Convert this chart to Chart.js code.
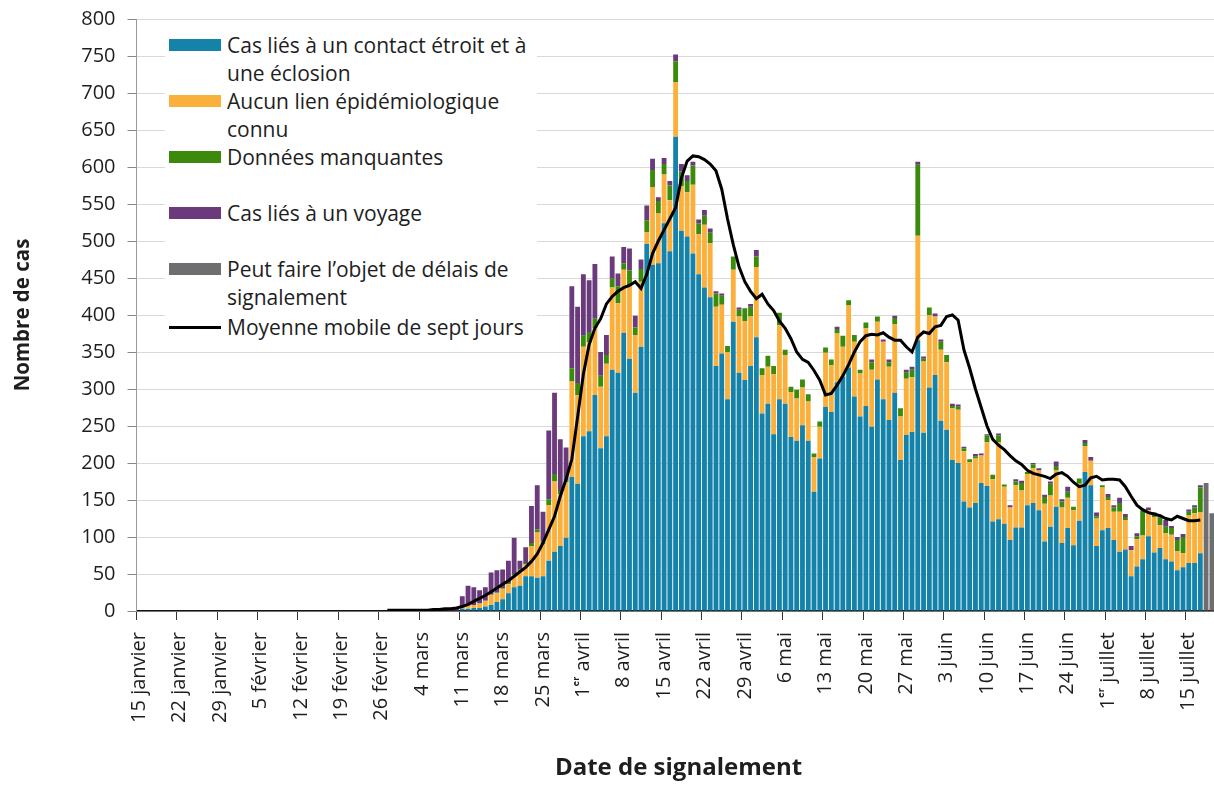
<!DOCTYPE html>
<html lang="fr">
<head>
<meta charset="utf-8">
<script src="https://cdn.jsdelivr.net/npm/chart.js@4"></script>
<style>
  html, body { margin: 0; padding: 0; background: #fff; overflow: hidden; }
  #wrap { position: relative; width: 1224px; height: 786px; }
  #legend {
    position: absolute; left: 165px; top: 28px; width: 372px; height: 314px;
    background: #fff; font-family: "Open Sans", Lato, sans-serif; font-size: 21px; color: #1e1e1e;
  }
  .sw { position: absolute; left: 4px; width: 52px; height: 12px; }
  .txt { position: absolute; left: 62px; line-height: 28px; white-space: nowrap; }
</style>
</head>
<body>
<div id="wrap">
  <canvas id="casesChart"></canvas>
  <div id="legend"></div>
</div>
<script>
// day index 0 = 15 janvier; series below start at day 43
const START = 43;
const N_DAYS = 188;

const tickLabels = ['15 janvier', '22 janvier', '29 janvier', '5 février', '12 février', '19 février',
    '26 février', '4 mars', '11 mars', '18 mars', '25 mars', '1ᵉʳ avril', '8 avril', '15 avril',
    '22 avril', '29 avril', '6 mai', '13 mai', '20 mai', '27 mai', '3 juin', '10 juin', '17 juin',
    '24 juin', '1ᵉʳ juillet', '8 juillet', '15 juillet'];

// Cas liés à un contact étroit et à une éclosion
const contact = [0, 0, 0, 0, 0, 0, 0, 0, 0, 0, 0, 0, 1,
    3, 3, 4, 4, 6, 8, 12, 16, 24, 32, 34, 47, 47, 45, 47, 68, 80, 88, 99, 181,
    172, 236, 243, 292, 220, 236, 326, 322, 376, 341, 295, 357, 496, 468, 470, 524, 486, 641, 514, 506,
    483, 455, 437, 424, 331, 348, 286, 391, 322, 312, 331, 370, 267, 280, 239, 286, 280, 235, 230, 251,
    230, 161, 206, 276, 269, 309, 317, 329, 290, 263, 277, 249, 313, 286, 258, 295, 204, 238, 242, 366,
    241, 302, 319, 257, 245, 204, 200, 148, 140, 146, 173, 169, 121, 124, 118, 96, 113, 113, 143, 146,
    136, 94, 114, 141, 92, 112, 89, 122, 188, 170, 88, 109, 112, 96, 80, 83, 47, 60, 70, 101,
    79, 85, 70, 67, 55, 59, 65, 65, 78];

// Aucun lien épidémiologique connu
const noLink = [0, 0, 0, 0, 0, 0, 0, 0, 0, 0, 0, 0, 0,
    2, 4, 4, 6, 8, 14, 12, 14, 12, 16, 20, 16, 41, 61, 43, 75, 95, 70, 75, 129,
    120, 121, 120, 90, 83, 98, 111, 94, 85, 98, 78, 88, 16, 105, 67, 66, 69, 74, 60, 60,
    93, 54, 85, 73, 80, 66, 64, 70, 76, 80, 67, 95, 52, 50, 81, 100, 66, 61, 57, 51,
    53, 47, 43, 73, 63, 66, 40, 84, 74, 58, 105, 77, 78, 78, 72, 93, 59, 76, 74, 141,
    96, 98, 79, 96, 91, 70, 72, 68, 61, 60, 37, 59, 57, 104, 50, 44, 57, 50, 42, 47,
    54, 51, 42, 49, 48, 41, 47, 50, 35, 33, 37, 58, 38, 38, 54, 40, 35, 37, 32, 35,
    48, 31, 35, 36, 26, 19, 64, 67, 55];

// Données manquantes
const missing = [0, 0, 0, 0, 0, 0, 0, 0, 0, 0, 0, 0, 0,
    0, 0, 0, 0, 0, 0, 1, 1, 2, 2, 2, 2, 4, 4, 4, 8, 10, 4, 3, 18,
    16, 15, 14, 13, 15, 12, 12, 23, 9, 21, 10, 17, 16, 23, 17, 14, 20, 28, 20, 15,
    26, 15, 12, 14, 18, 12, 8, 18, 9, 17, 13, 14, 9, 15, 11, 17, 7, 7, 12, 11,
    10, 5, 7, 7, 8, 6, 15, 7, 9, 5, 8, 10, 7, 0, 6, 8, 11, 8, 10, 96,
    4, 10, 0, 11, 10, 3, 4, 4, 4, 3, 0, 9, 6, 9, 3, 0, 5, 10, 3, 5,
    0, 9, 16, 6, 8, 8, 5, 7, 4, 0, 3, 3, 4, 6, 12, 4, 0, 4, 34, 0,
    3, 10, 9, 9, 15, 22, 5, 8, 34];

// Cas liés à un voyage
const travel = [0, 1, 0, 0, 0, 0, 0, 0, 1, 0, 1, 2, 3,
    15, 27, 24, 18, 18, 30, 30, 25, 30, 49, 12, 21, 50, 60, 40, 93, 110, 70, 44, 111,
    103, 83, 70, 74, 32, 27, 30, 17, 22, 30, 16, 13, 20, 15, 5, 8, 6, 9, 10, 8,
    5, 5, 8, 6, 3, 3, 0, 0, 3, 0, 4, 9, 0, 0, 0, 0, 0, 0, 0, 0,
    0, 0, 0, 0, 0, 3, 0, 0, 0, 0, 0, 4, 0, 3, 4, 3, 0, 4, 4, 4,
    3, 0, 4, 3, 0, 3, 3, 2, 0, 3, 3, 2, 0, 3, 0, 3, 3, 3, 0, 2,
    3, 3, 3, 6, 3, 7, 0, 0, 4, 5, 5, 0, 4, 3, 7, 4, 6, 4, 0, 4,
    3, 4, 9, 3, 4, 4, 3, 3, 3];

// Peut faire l'objet de délais de signalement (from day 185)
const GREY_START = 185;
const delayed = [173, 132, 100];

// Moyenne mobile de sept jours
const movingAvg = [1, 1, 1, 1, 1, 1, 1, 1, 2, 2, 3, 3, 4,
    6, 9, 13, 17, 21, 26, 31, 36, 41, 47, 53, 59, 67, 77, 92, 110, 128, 155, 178, 205,
    262, 320, 360, 382, 395, 415, 425, 432, 437, 440, 445, 436, 455, 483, 500, 515, 530, 545, 585, 608,
    615, 614, 610, 604, 595, 570, 530, 495, 465, 445, 432, 422, 428, 415, 406, 392, 382, 368, 350, 340,
    336, 325, 312, 292, 294, 305, 318, 333, 350, 364, 372, 374, 373, 376, 370, 366, 366, 357, 350, 370,
    377, 375, 384, 386, 398, 400, 393, 353, 328, 300, 275, 250, 232, 224, 218, 210, 203, 198, 190, 186,
    184, 182, 179, 185, 187, 182, 174, 168, 170, 180, 182, 177, 178, 178, 177, 168, 155, 143, 137, 133,
    131, 129, 125, 123, 128, 125, 122, 122, 123];

const colors = {
    contact: '#1582AA',
    noLink: '#FBB03B',
    missing: '#3B8A0B',
    travel: '#6A3A7C',
    delayed: '#6E6E70'
};

function pad(arr, start) {
    const out = new Array(start).fill(null).concat(arr);
    while (out.length < N_DAYS) out.push(null);
    return out;
}

const days = [];
for (let i = 0; i < N_DAYS; i++) {
    days.push(i % 7 === 0 ? tickLabels[i / 7] : '');
}

const font = '"Open Sans", Lato, sans-serif';

function barSet(label, data, color) {
    return {
        type: 'bar',
        label: label,
        data: data,
        backgroundColor: color,
        borderWidth: 0,
        barPercentage: 0.84,
        categoryPercentage: 1,
        stack: 'cas',
        order: 1
    };
}

const ctx = document.getElementById('casesChart').getContext('2d');
const casesChart = new Chart(ctx, {
    data: {
        labels: days,
        datasets: [
            barSet('Cas liés à un contact étroit et à une éclosion', pad(contact, START), colors.contact),
            barSet('Aucun lien épidémiologique connu', pad(noLink, START), colors.noLink),
            barSet('Données manquantes', pad(missing, START), colors.missing),
            barSet('Cas liés à un voyage', pad(travel, START), colors.travel),
            barSet('Peut faire l’objet de délais de signalement', pad(delayed, GREY_START), colors.delayed),
            {
                type: 'line',
                label: 'Moyenne mobile de sept jours',
                data: pad(movingAvg, START),
                borderColor: '#000',
                borderWidth: 3,
                pointRadius: 0,
                tension: 0,
                stack: 'moyenne',
                order: 0
            }
        ]
    },
    options: {
        responsive: true,
        maintainAspectRatio: false,
        animation: false,
        layout: { padding: { left: 0, right: 3.5, top: 19, bottom: 0 } },
        plugins: {
            legend: { display: false },
            tooltip: { enabled: false }
        },
        scales: {
            x: {
                stacked: true,
                grid: {
                    drawOnChartArea: false,
                    drawTicks: true,
                    tickLength: 9,
                    color: (c) => (c.index % 7 === 0 ? '#333' : 'rgba(0,0,0,0)')
                },
                border: { display: true, color: '#111', width: 1.5 },
                ticks: {
                    autoSkip: false,
                    minRotation: 90,
                    maxRotation: 90,
                    padding: 12,
                    color: '#1e1e1e',
                    font: { family: font, size: 20 }
                },
                title: {
                    display: true,
                    text: 'Date de signalement',
                    color: '#1e1e1e',
                    font: { family: font, size: 24, weight: 'bold' },
                    padding: { top: 0, bottom: 3 }
                },
                afterFit: (scale) => {
                    scale.height = 175;
                    scale.paddingLeft = 0;
                    scale.paddingRight = 0;
                }
            },
            y: {
                stacked: true,
                min: 0,
                max: 800,
                grid: { color: '#d9d9d9', tickColor: '#888', drawTicks: true, tickLength: 9 },
                border: { display: true, color: '#999', width: 1 },
                ticks: {
                    stepSize: 50,
                    padding: 12,
                    color: '#1e1e1e',
                    font: { family: font, size: 20 }
                },
                title: {
                    display: true,
                    text: 'Nombre de cas',
                    color: '#1e1e1e',
                    font: { family: font, size: 20.5, weight: 'bold' },
                    padding: { top: 11, bottom: 0 }
                },
                afterFit: (scale) => {
                    scale.width = 136.5;
                    scale.paddingTop = 0;
                    scale.paddingBottom = 0;
                }
            }
        }
    }
});

// legend drawn as HTML over the chart area
const legendItems = [
    { y: 45, lines: ['Cas liés à un contact étroit et à', 'une éclosion'], color: colors.contact },
    { y: 101, lines: ['Aucun lien épidémiologique', 'connu'], color: colors.noLink },
    { y: 157, lines: ['Données manquantes'], color: colors.missing },
    { y: 213, lines: ['Cas liés à un voyage'], color: colors.travel },
    { y: 269, lines: ['Peut faire l’objet de délais de', 'signalement'], color: colors.delayed },
    { y: 327, lines: ['Moyenne mobile de sept jours'], color: '#000', line: true }
];
const legendBox = document.getElementById('legend');
const boxTop = 28;
legendItems.forEach((it) => {
    const sw = document.createElement('div');
    sw.className = 'sw';
    sw.style.background = it.color;
    if (it.line) {
        sw.style.height = '3px';
        sw.style.top = (it.y - boxTop - 1.5) + 'px';
    } else {
        sw.style.top = (it.y - boxTop - 6) + 'px';
    }
    legendBox.appendChild(sw);
    const tx = document.createElement('div');
    tx.className = 'txt';
    tx.style.top = (it.y - boxTop - 14) + 'px';
    tx.innerHTML = it.lines.join('<br>');
    legendBox.appendChild(tx);
});
</script>
</body>
</html>
